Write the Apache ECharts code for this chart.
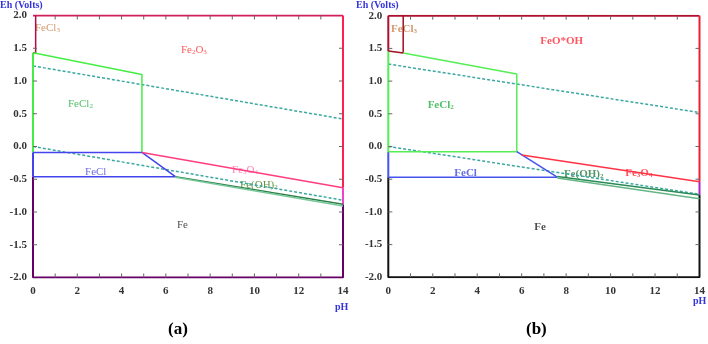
<!DOCTYPE html>
<html>
<head>
<meta charset="utf-8">
<script src="https://cdn.jsdelivr.net/npm/echarts@6/dist/echarts.min.js"></script>
<style>
html, body { margin: 0; padding: 0; background: #fff; }
#chart { width: 708px; height: 344px; }
</style>
</head>
<body>
<div id="chart"></div>
<script>
// 坐标轴刻度
var phTicks = [0, 2, 4, 6, 8, 10, 12, 14];
var ehTicks = [-2.0, -1.5, -1.0, -0.5, 0.0, 0.5, 1.0, 1.5, 2.0];
var phMinorTicks = [1, 2, 3, 4, 5, 6, 7, 8, 9, 10, 11, 12, 13];
var ehInnerTicks = [-1.5, -1.0, -0.5, 0.0, 0.5, 1.0, 1.5];

// (a) 边界线 [pH, Eh]
var aFeCl3 = [[0, 1.43], [0.12, 1.43], [0.12, 2.0]];
var aFeCl2 = [[0, 1.43], [4.92, 1.10], [4.92, -0.09]];
var aFeClTop = [[0, -0.09], [4.92, -0.09], [6.43, -0.46]];
var aFeClBot = [[0, -0.46], [6.43, -0.46]];
var aFe3O4 = [[4.92, -0.09], [14, -0.63]];
var aFeOH2Hi = [[6.43, -0.46], [14, -0.88]];
var aFeOH2Lo = [[6.43, -0.47], [14, -0.91]];
var aWaterO2 = [[0, 1.23], [14, 0.42]];
var aWaterH2 = [[0, 0.0], [14, -0.82]];
var aBorderTop = [[0, 2.0], [14, 2.0]];
var aBorderLeftGreen = [[0, 1.43], [0, -0.09]];
var aBorderLeftBlue = [[0, -0.09], [0, -0.46]];
var aBorderLeftLow = [[0, -0.46], [0, -2.0], [14, -2.0], [14, -0.88]];
var aBorderRightRed = [[14, 2.0], [14, -0.63]];
var aBorderRightPink = [[14, -0.63], [14, -0.88]];

// (b) 边界线 [pH, Eh]
var bFeCl3 = [[0, 1.46], [0.67, 1.43], [0.67, 2.0]];
var bFeCl2 = [[0.67, 1.43], [5.78, 1.11], [5.78, -0.08], [0, -0.08]];
var bFeClDiag = [[5.78, -0.08], [7.6, -0.47]];
var bFeClBot = [[0, -0.47], [7.6, -0.47]];
var bFe3O4 = [[6.0, -0.13], [14, -0.54]];
var bFeOH2Hi = [[7.6, -0.46], [14, -0.74]];
var bFeOH2Lo = [[7.6, -0.48], [14, -0.80]];
var bWaterO2 = [[0, 1.26], [14, 0.52]];
var bWaterH2 = [[0, 0.0], [14, -0.73]];
var bBorderTop = [[0, 2.0], [14, 2.0]];
var bBorderLeftCrimson = [[0, 2.0], [0, 1.46]];
var bBorderLeftGreen = [[0, 1.46], [0, -0.08]];
var bBorderLeftBlue = [[0, -0.08], [0, -0.47]];
var bBorderLow = [[0, -0.47], [0, -2.0], [14, -2.0], [14, -0.74]];
var bBorderRightRed = [[14, 2.0], [14, -0.54]];
var bBorderRightPurple = [[14, -0.54], [14, -0.74]];

// 区域标签
var aLabelText = ['FeCl{s|3}', 'Fe{s|2}O{s|3}', 'FeCl{s|2}', 'FeCl', 'Fe{s|3}O{s|4}', 'Fe(OH){s|2}', 'Fe'];
var aLabelPos = [[0.09, 1.81], [6.68, 1.47], [1.58, 0.65], [2.35, -0.39], [8.99, -0.36], [9.35, -0.59], [6.5, -1.2]];
var bLabelText = ['FeCl{s|3}', 'FeO*OH', 'FeCl{s|2}', 'FeCl', 'Fe{s|3}O{s|4}', 'Fe(OH){s|2}', 'Fe'];
var bLabelPos = [[0.12, 1.80], [6.84, 1.61], [1.77, 0.63], [2.97, -0.41], [10.66, -0.41], [7.9, -0.42], [6.57, -1.23]];

var aLabelColor = ['#c8804a', '#ff3030', '#22b040', '#4848d8', '#ff66aa', '#3a7a10', '#222'];
var bLabelColor = ['#c8804a', '#ff2a3a', '#22b040', '#3b4ad8', '#ff2a3a', '#2a7a40', '#222'];

var myChart = echarts.init(document.getElementById('chart'));
var serif = 'Liberation Serif';
var TICK_LEN = 4;

function lineSeries(data, idx, color, width, dashed) {
  return {
    type: 'line', xAxisIndex: idx, yAxisIndex: idx, data: data,
    symbol: 'none', silent: true, animation: false,
    lineStyle: { color: color, width: width || 1.5, type: dashed ? [3, 2] : 'solid' }
  };
}

function labelSeries(texts, pos, colors, idx, bold) {
  return {
    type: 'scatter', xAxisIndex: idx, yAxisIndex: idx, symbolSize: 0,
    silent: true, animation: false,
    data: texts.map(function (t, i) {
      return {
        value: pos[i],
        label: {
          show: true, position: 'right', distance: 0,
          formatter: t, color: colors[i],
          fontFamily: serif, fontSize: 11, fontWeight: bold ? 'bold' : 'normal',
          rich: { s: { fontSize: 7, verticalAlign: 'bottom', color: colors[i],
                       fontFamily: serif, fontWeight: bold ? 'bold' : 'normal' } }
        }
      };
    })
  };
}

// 内侧小刻度：位置由坐标轴换算
function tickSeries(idx, vertical) {
  var vals = vertical ? phMinorTicks : ehInnerTicks;
  return {
    type: 'custom', xAxisIndex: idx, yAxisIndex: idx, silent: true, animation: false,
    clip: false, z: 5,
    data: vals.map(function (v) { return [v, 0]; }),
    renderItem: function (params, api) {
      var v = api.value(0);
      var style = { stroke: '#666', lineWidth: 1 };
      var a, b;
      if (vertical) {
        a = api.coord([v, -2]); b = api.coord([v, 2]);
        return { type: 'group', children: [
          { type: 'line', shape: { x1: a[0], y1: a[1], x2: a[0], y2: a[1] - TICK_LEN }, style: style },
          { type: 'line', shape: { x1: b[0], y1: b[1], x2: b[0], y2: b[1] + TICK_LEN }, style: style }
        ] };
      }
      a = api.coord([0, v]); b = api.coord([14, v]);
      return { type: 'group', children: [
        { type: 'line', shape: { x1: a[0], y1: a[1], x2: a[0] + TICK_LEN, y2: a[1] }, style: style },
        { type: 'line', shape: { x1: b[0], y1: b[1], x2: b[0] - TICK_LEN, y2: b[1] }, style: style }
      ] };
    }
  };
}

var noLine = { show: false, onZero: false };

function xAxis(gridIndex) {
  return {
    type: 'value', gridIndex: gridIndex, min: 0, max: 14, interval: 1,
    axisLine: noLine, splitLine: { show: false }, axisTick: { show: false },
    axisLabel: {
      margin: 8, fontFamily: serif, fontWeight: 'bold', fontSize: 11, color: '#333',
      formatter: function (v) { return phTicks.indexOf(v) >= 0 ? String(v) : ''; }
    }
  };
}

function yAxis(gridIndex) {
  return {
    type: 'value', gridIndex: gridIndex, min: -2, max: 2, interval: 0.5,
    axisLine: noLine, splitLine: { show: false }, axisTick: { show: false },
    axisLabel: {
      margin: 6, fontFamily: serif, fontWeight: 'bold', fontSize: 11, color: '#333',
      formatter: function (v) { return ehTicks.indexOf(v) >= 0 ? v.toFixed(1) : ''; }
    }
  };
}

var teal = '#3aa8a0';
var series = [
  lineSeries(aWaterO2, 0, teal, 1.5, true),
  lineSeries(aWaterH2, 0, teal, 1.5, true),
  lineSeries(aBorderTop, 0, '#d0205a', 2),
  lineSeries(aBorderLeftGreen, 0, '#44ee44', 2),
  lineSeries(aBorderLeftBlue, 0, '#4444ee', 2),
  lineSeries(aBorderLeftLow, 0, '#660066', 2),
  lineSeries(aBorderRightRed, 0, '#ff2050', 2),
  lineSeries(aBorderRightPink, 0, '#ee44cc', 2),
  lineSeries(aFeCl3, 0, '#b01040', 1.5),
  lineSeries(aFeCl2, 0, '#44ee44', 1.5),
  lineSeries(aFeClTop, 0, '#4444ee', 1.5),
  lineSeries(aFeClBot, 0, '#4444ee', 1.5),
  lineSeries(aFe3O4, 0, '#ff3d7f', 1.5),
  lineSeries(aFeOH2Hi, 0, '#2e7d4a', 1.5),
  lineSeries(aFeOH2Lo, 0, '#77c999', 1.5),
  labelSeries(aLabelText, aLabelPos, aLabelColor, 0, false),
  tickSeries(0, true),
  tickSeries(0, false),

  lineSeries(bWaterO2, 1, teal, 1.5, true),
  lineSeries(bWaterH2, 1, teal, 1.5, true),
  lineSeries(bBorderTop, 1, '#b01030', 2),
  lineSeries(bBorderLeftCrimson, 1, '#b01030', 2),
  lineSeries(bBorderLeftGreen, 1, '#55ee55', 2),
  lineSeries(bBorderLeftBlue, 1, '#4455ee', 2),
  lineSeries(bBorderLow, 1, '#111', 2),
  lineSeries(bBorderRightRed, 1, '#ee2030', 2),
  lineSeries(bBorderRightPurple, 1, '#aa22cc', 2),
  lineSeries(bFeCl3, 1, '#a01020', 1.5),
  lineSeries(bFeCl2, 1, '#55ee55', 1.5),
  lineSeries(bFeClDiag, 1, '#4455ee', 1.5),
  lineSeries(bFeClBot, 1, '#4455ee', 1.5),
  lineSeries(bFe3O4, 1, '#ff3344', 1.5),
  lineSeries(bFeOH2Hi, 1, '#2a8a55', 1.5),
  lineSeries(bFeOH2Lo, 1, '#66b585', 1.5),
  labelSeries(bLabelText, bLabelPos, bLabelColor, 1, true),
  tickSeries(1, true),
  tickSeries(1, false)
];

var blueTitle = { color: '#3333dd', fontFamily: serif, fontWeight: 'bold', fontSize: 10 };
var bigTitle = { color: '#000', fontFamily: serif, fontWeight: 'bold', fontSize: 17 };

var option = {
  animation: false,
  grid: [
    { left: 33, top: 15.5, width: 310, height: 262 },
    { left: 388.3, top: 15.7, width: 314.7, height: 261.6 }
  ],
  title: [
    { text: 'Eh (Volts)', left: 0, top: 0, padding: 0, textStyle: blueTitle },
    { text: 'Eh (Volts)', left: 356, top: 0, padding: 0, textStyle: blueTitle },
    { text: 'pH', left: 335, top: 302, padding: 0, textStyle: blueTitle },
    { text: 'pH', left: 693, top: 296, padding: 0, textStyle: blueTitle },
    { text: '(a)', left: 168, top: 321, padding: 0, textStyle: bigTitle },
    { text: '(b)', left: 526, top: 321, padding: 0, textStyle: bigTitle }
  ],
  xAxis: [xAxis(0), xAxis(1)],
  yAxis: [yAxis(0), yAxis(1)],
  series: series
};
myChart.setOption(option);
</script>
</body>
</html>
